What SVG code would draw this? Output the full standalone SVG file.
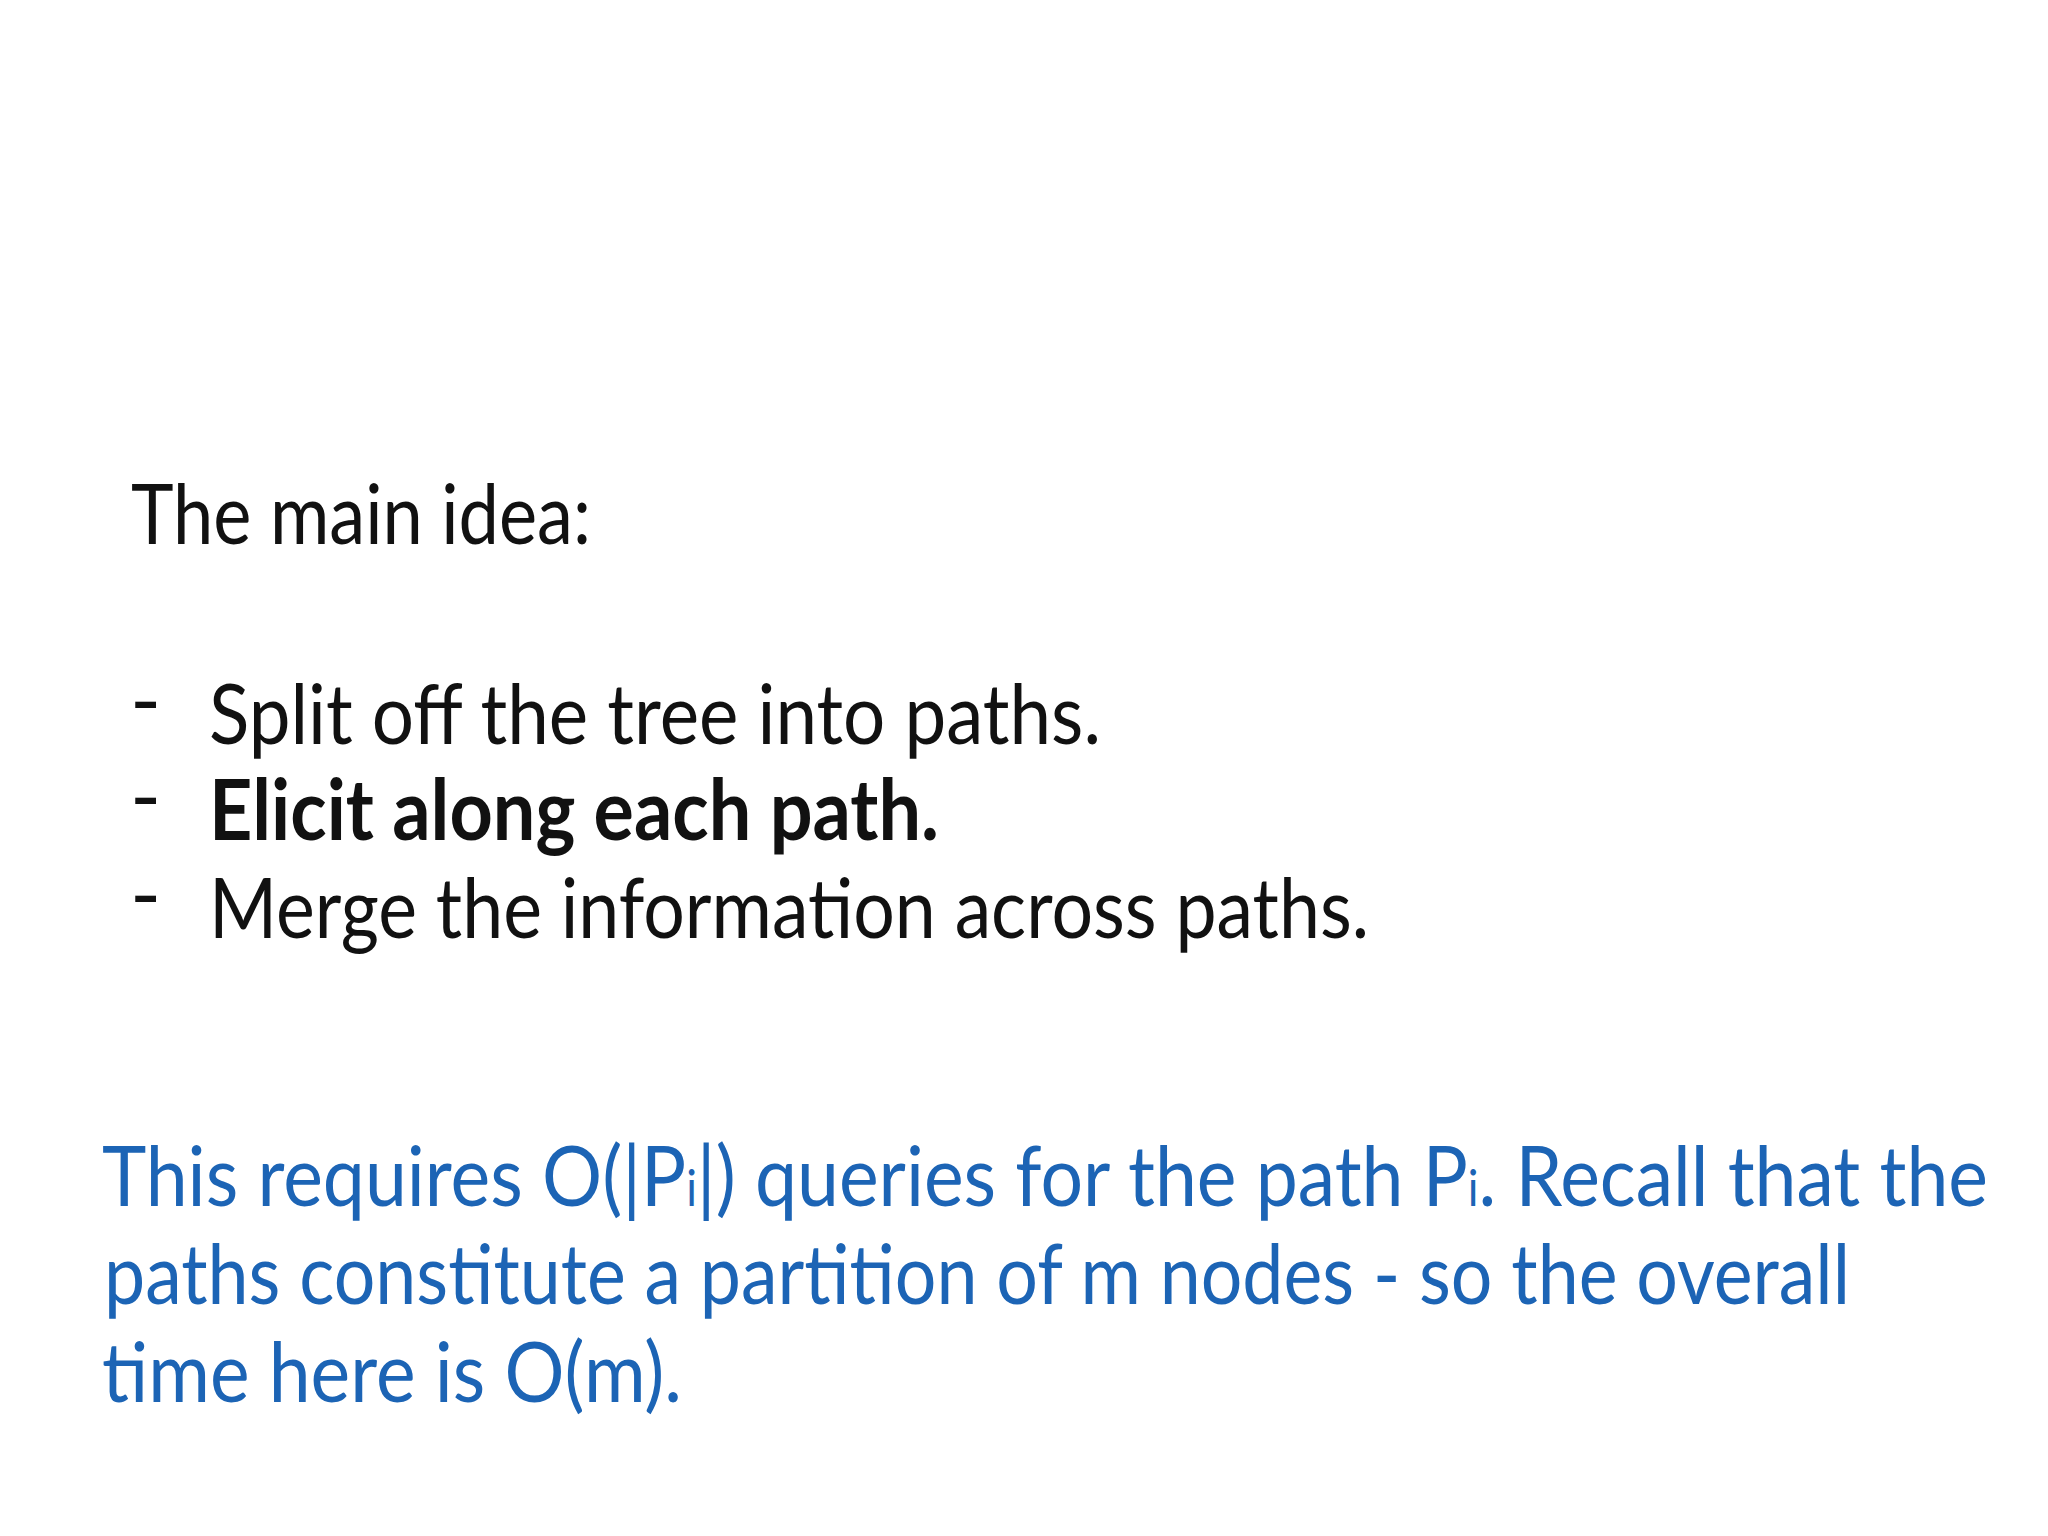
<svg xmlns="http://www.w3.org/2000/svg" width="2048" height="1536" viewBox="0 0 2048 1536">
<style>
text{font-family:Lato,"Open Sans","Liberation Sans",sans-serif;font-size:84px}
.k{fill:#111}
.b{fill:#1c64b5}
.bold{font-weight:bold}
</style>
<rect width="2048" height="1536" fill="#ffffff"/>
<g id="heading"><text class="k" x="131" y="544" textLength="460" lengthAdjust="spacingAndGlyphs">The main idea:</text></g>
<g id="bullets">
<text class="k" x="130" y="730">-</text>
<text class="k" x="209" y="744" textLength="892" lengthAdjust="spacingAndGlyphs">Split off the tree into paths.</text>
<text class="k" x="130" y="826">-</text>
<text class="k bold" x="209" y="840" textLength="730" lengthAdjust="spacingAndGlyphs">Elicit along each path.</text>
<text class="k" x="130" y="924">-</text>
<text class="k" x="209" y="938" textLength="1160" lengthAdjust="spacingAndGlyphs">Merge the information across paths.</text>
</g>
<g id="note">
<text class="b" x="102" y="1206" textLength="1886" lengthAdjust="spacingAndGlyphs">This requires O(|P<tspan font-size="50">i</tspan>|) queries for the path P<tspan font-size="50">i</tspan>. Recall that the</text>
<text class="b" x="104" y="1304" textLength="1746" lengthAdjust="spacingAndGlyphs">paths constitute a partition of m nodes - so the overall</text>
<text class="b" x="102" y="1402" textLength="580" lengthAdjust="spacingAndGlyphs">time here is O(m).</text>
</g>
</svg>
